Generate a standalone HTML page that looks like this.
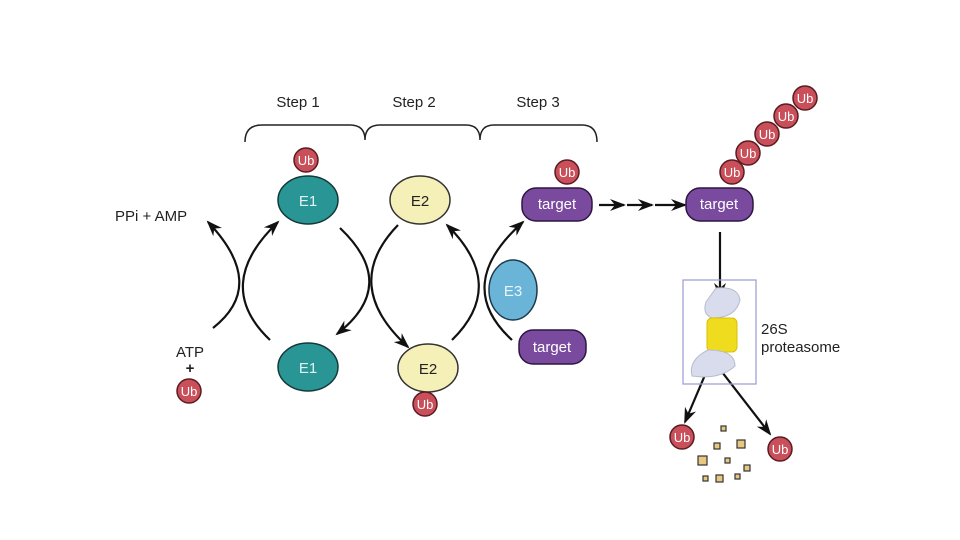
<!DOCTYPE html>
<html><head><style>body{margin:0;background:#fff}svg{display:block}text{font-family:"Liberation Sans",sans-serif}</style></head><body>
<svg width="960" height="540" viewBox="0 0 960 540">
<defs>
<marker id="a" markerWidth="16" markerHeight="12" refX="14" refY="6" orient="auto" markerUnits="userSpaceOnUse"><path d="M0,0 L16,6 L0,12 L5,6 Z" fill="#111"/></marker>
<g id="ub"><circle r="12" fill="#c9505a" stroke="#5a1c22" stroke-width="1.5"/><text y="5" text-anchor="middle" font-size="13" fill="#fff">Ub</text></g>
</defs>
<g font-size="15" fill="#222" text-anchor="middle"><text x="298" y="107">Step 1</text><text x="414" y="107">Step 2</text><text x="538" y="107">Step 3</text></g>
<path d="M245,142 Q245,125 262,125 L350,125 Q365,125 365,140 Q365,125 380,125 L466,125 Q480,125 480,140 Q480,125 494,125 L582,125 Q597,125 597,142" fill="none" stroke="#222" stroke-width="1.5"/>
<g fill="none" stroke="#111" stroke-width="2.2" marker-end="url(#a)">
<path d="M213,328 Q268,285 208,222"/>
<path d="M270,340 Q212,285 278,222"/>
<path d="M340,228 Q400,285 337,334"/>
<path d="M398,225 Q340,285 408,347"/>
<path d="M452,340 Q508,285 447,225"/>
<path d="M512,340 Q452,285 523,222"/>
<path d="M599,205 L624,205"/><path d="M627,205 L652,205"/><path d="M655,205 L685,205"/>
<path d="M720,232 L720,297"/>
<path d="M705,375 L685,422"/><path d="M722,372 L770,434"/>
</g>
<text x="115" y="221" font-size="15" fill="#222">PPi + AMP</text>
<g font-size="15" fill="#222" text-anchor="middle"><text x="190" y="357">ATP</text><text x="190" y="373" font-weight="bold">+</text></g>
<use href="#ub" x="189" y="391"/>
<ellipse cx="308" cy="200" rx="30" ry="24" fill="#2a9595" stroke="#14393a" stroke-width="1.5"/><text x="308" y="206" text-anchor="middle" font-size="15" fill="#e0f4f4">E1</text>
<use href="#ub" x="306" y="160"/>
<ellipse cx="420" cy="200" rx="30" ry="24" fill="#f5f0b8" stroke="#333" stroke-width="1.5"/><text x="420" y="206" text-anchor="middle" font-size="15" fill="#222">E2</text>
<ellipse cx="308" cy="367" rx="30" ry="24" fill="#2a9595" stroke="#14393a" stroke-width="1.5"/><text x="308" y="373" text-anchor="middle" font-size="15" fill="#e0f4f4">E1</text>
<ellipse cx="428" cy="368" rx="30" ry="24" fill="#f5f0b8" stroke="#333" stroke-width="1.5"/><text x="428" y="374" text-anchor="middle" font-size="15" fill="#222">E2</text>
<use href="#ub" x="425" y="404"/>
<ellipse cx="513" cy="290" rx="24" ry="30" fill="#6ab4d8" stroke="#1d3a4a" stroke-width="1.5"/><text x="513" y="296" text-anchor="middle" font-size="15" fill="#e8f6fc">E3</text>
<rect x="522" y="188" width="70" height="33" rx="14" fill="#7a4a9e" stroke="#2e1640" stroke-width="1.5"/><text x="557" y="209" text-anchor="middle" font-size="15" fill="#fff">target</text>
<use href="#ub" x="567" y="172"/>
<rect x="519" y="330" width="67" height="34" rx="14" fill="#7a4a9e" stroke="#2e1640" stroke-width="1.5"/><text x="552" y="352" text-anchor="middle" font-size="15" fill="#fff">target</text>
<rect x="686" y="188" width="67" height="33" rx="14" fill="#7a4a9e" stroke="#2e1640" stroke-width="1.5"/><text x="719" y="209" text-anchor="middle" font-size="15" fill="#fff">target</text>
<use href="#ub" x="805" y="98"/><use href="#ub" x="786" y="116"/><use href="#ub" x="767" y="134"/><use href="#ub" x="748" y="153"/><use href="#ub" x="732" y="172"/>
<rect x="683" y="280" width="73" height="104" fill="none" stroke="#9a9ad0" stroke-width="1.2"/>
<path d="M716,288 Q738,286 740,300 Q736,318 712,318 Q702,314 706,302 Z" fill="#d8dcec" stroke="#b8bcd0"/>
<rect x="707" y="318" width="30" height="34" rx="5" fill="#f0dc1e" stroke="#d8c000"/>
<path d="M708,350 Q735,350 735,366 Q720,380 692,376 Q688,360 708,350 Z" fill="#d8dcec" stroke="#b8bcd0"/>
<g font-size="15" fill="#222"><text x="761" y="334">26S</text><text x="761" y="352">proteasome</text></g>
<use href="#ub" x="682" y="437"/><use href="#ub" x="780" y="449"/>
<g fill="#e8c880" stroke="#333" stroke-width="1.2">
<rect x="721" y="426" width="5" height="5"/><rect x="714" y="443" width="6" height="6"/><rect x="737" y="440" width="8" height="8"/>
<rect x="698" y="456" width="9" height="9"/><rect x="725" y="458" width="5" height="5"/><rect x="744" y="465" width="6" height="6"/>
<rect x="703" y="476" width="5" height="5"/><rect x="716" y="475" width="7" height="7"/><rect x="735" y="474" width="5" height="5"/>
</g>
</svg>
</body></html>
